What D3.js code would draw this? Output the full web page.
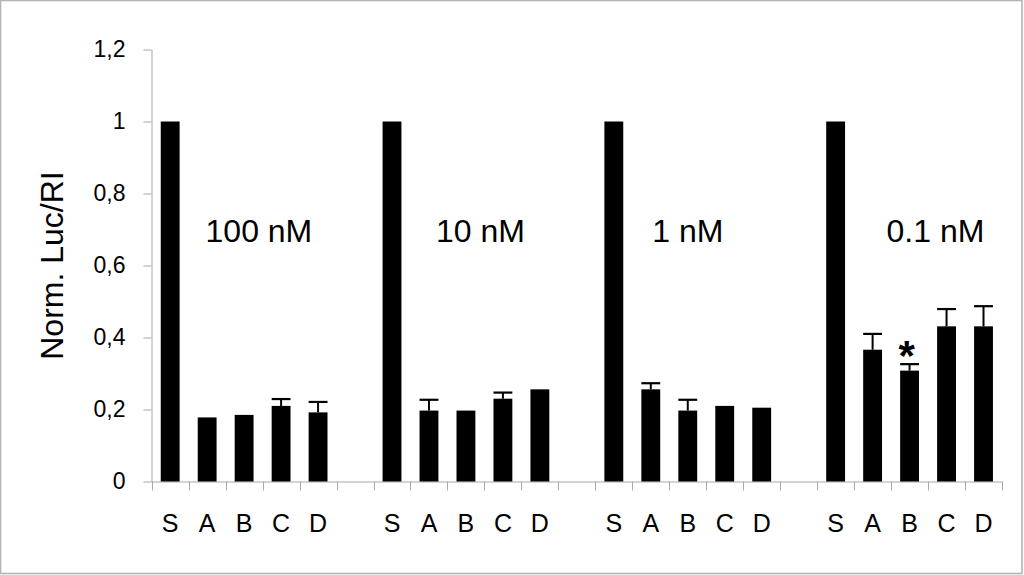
<!DOCTYPE html>
<html>
<head>
<meta charset="utf-8">
<script src="https://cdn.jsdelivr.net/npm/d3@7/dist/d3.min.js"></script>
<style>
	body { margin: 0; background: #fff; }
	svg { display: block; font-family: Arial, "Liberation Sans", sans-serif; }
</style>
</head>
<body>
<svg width="1024" height="575"></svg>
<script>
// concentrations and samples
var groups = ["100 nM", "10 nM", "1 nM", "0.1 nM"];
var samples = ["S", "A", "B", "C", "D"];

// Norm. Luc/RI per group (S, A, B, C, D)
var val100 = [1, 0.178, 0.185, 0.210, 0.192];
var val10  = [1, 0.197, 0.197, 0.230, 0.256];
var val1   = [1, 0.256, 0.197, 0.210, 0.205];
var val01  = [1, 0.366, 0.308, 0.431, 0.431];

// error (upper only)
var err100 = [0, 0, 0, 0.019, 0.029];
var err10  = [0, 0.030, 0, 0.017, 0];
var err1   = [0, 0.017, 0.030, 0, 0];
var err01  = [0, 0.044, 0.018, 0.048, 0.056];

// significance marks
var stars = [{group: "0.1 nM", sample: "B", mark: "*"}];

var yTicks = [0, 0.2, 0.4, 0.6, 0.8, 1, 1.2];

var values = [val100, val10, val1, val01];
var errors = [err100, err10, err1, err01];

// where the concentration text sits inside its group (in slots)
var labelSlot = [2.9, 2.89, 2.5, 3.2];

var data = [];
var slots = [];
groups.forEach(function(g, gi){
	samples.forEach(function(s, si){
		var key = g + "|" + s;
		slots.push(key);
		data.push({group: g, sample: s, key: key, value: values[gi][si], err: errors[gi][si]});
	});
	if(gi < groups.length - 1){ slots.push("gap" + gi); }
});

var svg = d3.select("svg");

// frame
svg.append("rect")
	.attr("x", 0.5).attr("y", 0.5)
	.attr("width", 1021.5).attr("height", 573)
	.attr("fill", "none")
	.attr("stroke", "#b4b4b4")
	.attr("stroke-width", 1.6);

var p = 0.49;
var x = d3.scaleBand().domain(slots).range([151.7, 1002])
	.paddingInner(p).paddingOuter(p / 2);
var y = d3.scaleLinear().domain([0, 1.2]).range([481.5, 49.5]);

var axisColor = "#a8a8a8";

// y axis
var yAxis = d3.axisLeft(y)
	.tickValues(yTicks)
	.tickSize(8)
	.tickSizeOuter(0)
	.tickPadding(18)
	.tickFormat(function(d){ return d3.format("~g")(d).replace(".", ","); });

var yG = svg.append("g").attr("transform", "translate(151.5,0)").call(yAxis);
yG.attr("font-size", null).attr("font-family", null);
yG.select(".domain").attr("stroke", axisColor);
yG.selectAll(".tick line").attr("stroke", axisColor);
yG.selectAll(".tick text")
	.attr("fill", "#000")
	.style("font-size", "23px");

// x axis: line and ticks at every slot boundary
var x0 = x.range()[0], x1 = x.range()[1];
svg.append("line")
	.attr("x1", x0).attr("x2", x1)
	.attr("y1", y(0) + 0.5).attr("y2", y(0) + 0.5)
	.attr("stroke", axisColor);

var bounds = d3.range(slots.length + 1).map(function(i){ return x0 + i * x.step(); });
svg.selectAll(".xtick")
	.data(bounds)
	.enter()
	.append("line")
	.attr("class", "xtick")
	.attr("x1", d => Math.round(d) + 0.5).attr("x2", d => Math.round(d) + 0.5)
	.attr("y1", y(0)).attr("y2", y(0) + 9)
	.attr("stroke", axisColor);

// bars
svg.selectAll(".bar")
	.data(data)
	.enter()
	.append("rect")
	.attr("class", "bar")
	.attr("x", d => x(d.key))
	.attr("width", x.bandwidth())
	.attr("y", d => y(d.value))
	.attr("height", d => y(0) - y(d.value))
	.attr("fill", "#000");

// error bars
var withErr = data.filter(d => d.err > 0);
svg.selectAll(".errv")
	.data(withErr)
	.enter()
	.append("line")
	.attr("x1", d => x(d.key) + x.bandwidth() / 2)
	.attr("x2", d => x(d.key) + x.bandwidth() / 2)
	.attr("y1", d => y(d.value))
	.attr("y2", d => y(d.value + d.err))
	.attr("stroke", "#000")
	.attr("stroke-width", 2);
svg.selectAll(".errc")
	.data(withErr)
	.enter()
	.append("line")
	.attr("x1", d => x(d.key))
	.attr("x2", d => x(d.key) + x.bandwidth())
	.attr("y1", d => y(d.value + d.err))
	.attr("y2", d => y(d.value + d.err))
	.attr("stroke", "#000")
	.attr("stroke-width", 2.2);

// sample labels
svg.selectAll(".xlab")
	.data(data)
	.enter()
	.append("text")
	.attr("x", d => x(d.key) + x.bandwidth() / 2)
	.attr("y", 531.5)
	.attr("text-anchor", "middle")
	.style("font-size", "25px")
	.text(d => d.sample);

// concentration labels
svg.selectAll(".glab")
	.data(groups)
	.enter()
	.append("text")
	.attr("x", (g, i) => x(g + "|S") - x.step() * p / 2 + labelSlot[i] * x.step())
	.attr("y", 242.3)
	.attr("text-anchor", "middle")
	.style("font-size", "32px")
	.text(g => g);

// significance
svg.selectAll(".star")
	.data(stars)
	.enter()
	.append("text")
	.attr("x", d => x(d.group + "|" + d.sample) + x.bandwidth() / 2 - 3)
	.attr("y", function(d){
		var r = data.find(e => e.key === d.group + "|" + d.sample);
		return y(r.value + r.err) + 6;
	})
	.attr("text-anchor", "middle")
	.style("font-size", "42px")
	.style("font-weight", "bold")
	.text(d => d.mark);

// y title
svg.append("text")
	.attr("transform", "translate(63," + ((y(0) + y(1.2)) / 2) + ") rotate(-90)")
	.attr("text-anchor", "middle")
	.style("font-size", "32px")
	.text("Norm. Luc/RI");
</script>
</body>
</html>
